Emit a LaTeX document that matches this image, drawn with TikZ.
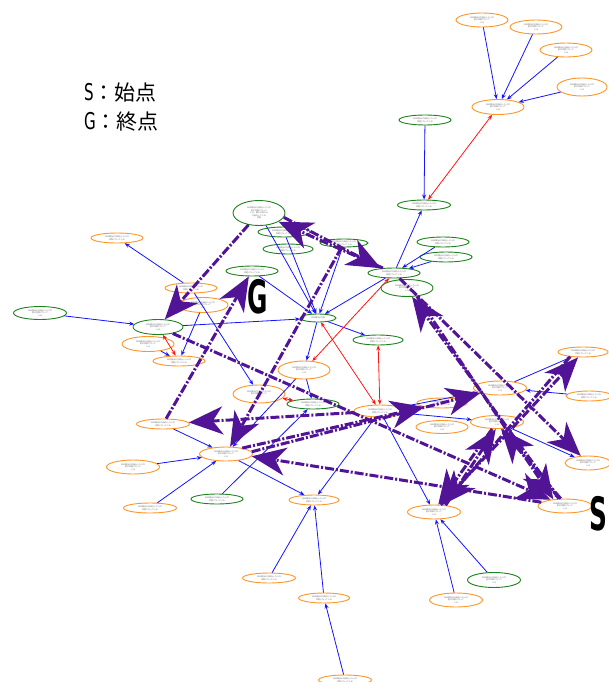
\documentclass[tikz,border=0pt]{standalone}
\usepackage{fontspec}
\newfontfamily\jp{Noto Sans CJK JP}
\newfontfamily\cond{DejaVu Sans Condensed}
\usetikzlibrary{arrows.meta,shapes.geometric}
\definecolor{ocol}{RGB}{255,150,40}
\definecolor{gcol}{RGB}{30,130,30}
\definecolor{pcol}{RGB}{82,20,150}
\definecolor{bcol}{RGB}{20,20,255}
\definecolor{rcol}{RGB}{255,20,20}
\tikzset{
  base/.style={ellipse, draw, line width=0.9pt, inner sep=0pt, fill=white,
    font=\jp\fontsize{2}{2.5}\selectfont, text=black!60, align=center},
  onode/.style={base, draw=ocol},
  gnode/.style={base, draw=gcol},
  bl/.style={draw=bcol, line width=0.8pt, -{Stealth[length=5pt,width=4pt]}},
  rd/.style={draw=rcol, line width=0.8pt, {Stealth[length=5pt,width=4pt]}-{Stealth[length=5pt,width=4pt]}},
  pp/.style={draw=pcol, line width=3pt, dash pattern=on 9pt off 2pt on 2pt off 2pt,
    -{Stealth[length=34pt,width=28pt,inset=10pt]}},
  big/.style={font=\cond\bfseries\fontsize{46}{46}\selectfont, inner sep=0pt, xscale=0.6},
  legend/.style={font=\jp\fontsize{21}{24}\selectfont, anchor=west, inner sep=0pt},
}
% node: style, name, position, width, height, text
\newcommand\nd[6]{\node[#1, minimum width=#4pt, minimum height=#5pt] (#2) at (#3) {#6};}
\newcommand\ta{ＷＷ相当の行為をした人が\\状態になっている}
\newcommand\tc{ＷＷ相当の行為をした人が\\別の状態になって\\いる}
\newcommand\lt[1]{\scalebox{0.8}[1.1]{\cond #1}}
\begin{document}
\begin{tikzpicture}[x=1pt,y=-1pt]
\useasboundingbox (0,0) rectangle (608,682);

% legend
\node[legend] (legS) at (84,93) {\lt{S}：始点};
\node[legend] (legG) at (84,122) {\lt{G}：終点};

% orange nodes
\nd{onode}{T1}{482,20}{52}{14}{\tc}
\nd{onode}{T2}{536,27}{52}{14}{\tc}
\nd{onode}{T3}{566,50}{52}{14}{\tc}
\nd{onode}{T4}{582,87}{50}{18}{\tc}
\nd{onode}{T5}{498,107}{52}{15}{\tc}
\nd{onode}{Oa}{117,238}{52}{10}{\ta}
\nd{onode}{Ob}{191,288}{52}{10}{\ta}
\nd{onode}{Oc}{203,305}{50}{15}{\tc}
\nd{onode}{Od}{148,344}{52}{15}{\tc}
\nd{onode}{Oe}{179,361}{52}{10}{\ta}
\nd{onode}{Of}{304,370}{52}{18}{\tc}
\nd{onode}{Og}{259,394}{52}{18}{\tc}
\nd{onode}{Oh}{380,411}{52}{12}{\ta}
\nd{onode}{Ol}{442,403}{50}{10}{\ta}
\nd{onode}{Oi}{500,388}{53}{14}{\tc}
\nd{onode}{Ok}{497,422}{53}{13}{\tc}
\nd{onode}{Oj}{442,427}{52}{13}{\tc}
\nd{onode}{Om}{583,352}{50}{10}{\ta}
\nd{onode}{On}{589,396}{46}{10}{\ta}
\nd{onode}{Oo}{588,463}{46}{14}{\tc}
\nd{onode}{Op}{565,506}{54}{14}{\tc}
\nd{onode}{Oq}{434,512}{53}{14}{\tc}
\nd{onode}{Or}{163,424}{53}{10}{\ta}
\nd{onode}{Os}{226,454}{53}{14}{\tc}
\nd{onode}{Ot}{133,467}{53}{14}{\tc}
\nd{onode}{Ou}{150,508}{53}{10}{\ta}
\nd{onode}{Ow}{314,500}{50}{10}{\ta}
\nd{onode}{Oz}{269,578}{53}{10}{\ta}
\nd{onode}{Oaa}{324,598}{51}{10}{\ta}
\nd{onode}{Obb}{345,680}{53}{10}{\ta}
\nd{onode}{Occ}{456,600}{53}{14}{\tc}

% green nodes
\nd{gnode}{Ga}{425,120}{52}{10}{\ta}
\nd{gnode}{Gb}{424,205}{53}{10}{\ta}
\nd{gnode}{Gc}{443,242}{52}{10}{\ta}
\nd{gnode}{Gd}{446,257}{52}{10}{\ta}
\nd{gnode}{Ge}{394,273}{52}{10}{\ta}
\nd{gnode}{Gf}{407,288}{52}{17}{\tc}
\nd{gnode}{Gtop}{259,213}{52}{25}{ＷＷ相当の行為をした人が\\別の状態になって\\いる。誰かが何かの\\行為をしている\\状態}
\nd{gnode}{Gg}{284,232}{52}{10}{\ta}
\nd{gnode}{Gh}{288,249}{50}{10}{\ta}
\nd{gnode}{Gi}{344,243}{48}{8}{\ta}
\nd{gnode}{Gj}{252,271}{52}{10}{\ta}
\nd{gnode}{Gk}{318,318}{36}{8}{ＷＷ相当の行為}
\nd{gnode}{Gl}{378,340}{50}{10}{\ta}
\nd{gnode}{Gm}{40,313}{53}{13}{\tc}
\nd{gnode}{Gn}{158,327}{50}{15}{\tc}
\nd{gnode}{Go}{313,404}{52}{10}{\ta}
\nd{gnode}{Gp}{217,499}{52}{10}{\ta}
\nd{gnode}{Gq}{494,580}{53}{15}{\tc}

% blue relations
\foreach \a/\b in {T1/T5,T2/T5,T3/T5,T4/T5,Ga/Gb,Ge/Gb,Gc/Ge,Gd/Ge,Ob/Oa,Gm/Gn,Gn/Gk,
  Oc/Oe,Od/Oe,Ob/Og,Gj/Gk,Gg/Gk,Gtop/Gk,Gi/Gk,Ge/Gk,Gk/Gl,Gk/Of,Of/Go,Of/Os,Gp/Go,
  Or/Os,Ot/Os,Ou/Os,Os/Ow,Oz/Ow,Oaa/Ow,Obb/Oaa,Occ/Oq,Gq/Oq,Oh/Oq,Oh/Ow,Oh/Oi,Oh/Ok,
  Oi/Om,On/Oi,Ok/Oo,Ok/Op}
  \draw[bl] (\a) -- (\b);

% red mutual relations
\foreach \a/\b in {T5/Gb,Of/Ge,Gk/Oh,Gl/Oh,Gn/Oe,Og/Go}
  \draw[rd] (\a) -- (\b);

% path edges
\draw[pp] (Ge) -- (Gtop);
\draw[pp] (Gtop.-10) -- (Ge.160);
\draw[pp] (Gtop) -- (Gn);
\draw[pp] (Or) -- (Gj);
\draw[pp] (Gi) -- (Os);
\draw[pp] (Oh) -- (Or);
\draw[pp] (Os.20) -- (Ol);
\draw[pp] (Os.5) -- (Oi);
\draw[pp] (Op) -- (Os.-5);
\draw[pp] (Gn) -- (Op);
\draw[pp] (Gf.-40) -- (Op.150);
\draw[pp] (Op.130) -- (Gf.-60);
\draw[pp] (Ge) -- (Oo);
\draw[pp] (Oq) -- (Om);
\draw[pp] (Om.200) -- (Oq.40);
\draw[pp] (Ok) -- (Oq.60);
\draw[pp] (Op.120) -- (Ok.-60);
\draw[pp] (Oq.30) -- (Ok.-100);

% start and goal marks
\node[big] (Gmark) at (258,297) {G};
\node[big, anchor=east] (Smark) at (607,514) {S};
\end{tikzpicture}
\end{document}
